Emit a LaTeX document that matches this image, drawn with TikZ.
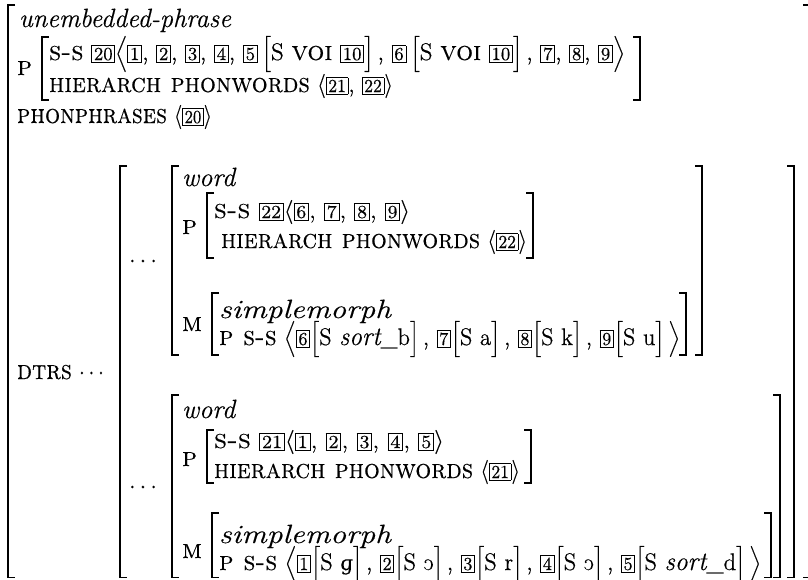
\documentclass[tikz,border=0pt]{standalone}
\usepackage{fontspec}
\usepackage{graphicx}
\newfontfamily\ipafnt{DejaVu Serif}[Scale=0.85]
\setlength{\fboxsep}{0.9pt}
\setlength{\fboxrule}{0.45pt}
\nulldelimiterspace=0pt
\newcommand{\heavy}{\special{pdf:literal direct 2 Tr 0.04 w}}
\newcommand{\tg}[1]{\fbox{\fontsize{9.2}{10}\selectfont #1}}
\newcommand{\avsc}[1]{{\fontsize{13.5}{15}\selectfont\scshape #1}}
\newcommand{\avit}[1]{{\fontsize{13.2}{15}\selectfont\itshape #1}}
\newcommand{\dlm}[1]{\ensuremath{\left#1\vcenter to 15pt{}\right.}}
\newcommand{\fitw}[2]{\resizebox{#1}{\height}{#2}}
\newcommand{\opo}{\reflectbox{c}}
\newcommand{\ipag}{{\ipafnt ɡ}}
\begin{document}
\begin{tikzpicture}[x=0.5pt,y=-0.5pt,
  txt/.style={anchor=base west,inner sep=0pt,outer sep=0pt,font=\fontsize{12}{14}\selectfont\heavy},
  dts/.style={anchor=base,inner sep=0pt,font=\fontsize{12}{14}\selectfont\heavy},
  brk/.style={line width=0.75pt}]
\useasboundingbox (0,0) rectangle (808,579);
% ---------- top level ----------
\node[txt] (type) at (19,27) {\fitw{106pt}{\avit{unembedded-phrase}}};
\node[txt] (plab) at (17,75) {\avsc{p}};
\node[txt] (ss) at (49,60) {\fitw{288pt}{\avsc{s-s} \tg{20}\dlm{\langle}\tg{1}, \tg{2}, \tg{3}, \tg{4}, \tg{5}\,\dlm{[}S \avsc{voi} \tg{10}\dlm{]}\,, \tg{6}\,\dlm{[}S \avsc{voi} \tg{10}\dlm{]}\,, \tg{7}, \tg{8}, \tg{9}\dlm{\rangle}}};
\node[txt] (hp) at (49,92) {\fitw{172pt}{\avsc{hierarch phonwords} $\langle$\tg{21}, \tg{22}$\rangle$}};
\node[txt] (pp) at (17,123) {\fitw{97.5pt}{\avsc{phonphrases} $\langle$\tg{20}$\rangle$}};
\node[txt] (dtrs) at (17,379) {\fitw{43.5pt}{\avsc{dtrs} $\cdots$}};
% brackets top level
\draw[brk] (15,5) -| (8,577.5) -- ++(7,0);
\draw[brk] (803,5) -| (809,577.5) -- ++(-6,0);
\draw[brk] (49,37) -| (42,100) -- ++(7,0);
\draw[brk] (633,37) -| (640,100) -- ++(-7,0);
% list brackets
\draw[brk] (127,166) -| (120,577.5) -- ++(7,0);
\draw[brk] (787,166) -| (794,577.5) -- ++(-7,0);
\node[dts] (d1) at (143,267) {$\cdots$};
\node[dts] (d2) at (143,493) {$\cdots$};
% ---------- word 1 ----------
\draw[brk] (179,166) -| (172,355) -- ++(7,0);
\draw[brk] (695,166) -| (702,355) -- ++(-7,0);
\node[txt] (w1t) at (182,186) {\avit{word}};
\node[txt] (w1p) at (182,234) {\avsc{p}};
\draw[brk] (214,193) -| (207,258) -- ++(7,0);
\draw[brk] (526,193) -| (533,258) -- ++(-7,0);
\node[txt] (w1a) at (214,218) {\fitw{98pt}{\avsc{s-s} \tg{22}$\langle$\tg{6}, \tg{7}, \tg{8}, \tg{9}$\rangle$}};
\node[txt] (w1b) at (221,248) {\fitw{153pt}{\avsc{hierarch phonwords} $\langle$\tg{22}$\rangle$}};
\node[txt] (w1m) at (182,331) {\avsc{m}};
\draw[brk] (219,293) -| (212,355) -- ++(7,0);
\draw[brk] (679,293) -| (686,355) -- ++(-7,0);
\node[txt] (w1c) at (219,318) {\fitw{86pt}{\avit{simplemorph}}};
\node[txt] (w1d) at (219,345) {\fitw{230.5pt}{\avsc{p s-s} \dlm{\langle}\tg{6}\dlm{[}S \avit{sort}\_b\dlm{]}\,, \tg{7}\dlm{[}S a\dlm{]}\,, \tg{8}\dlm{[}S k\dlm{]}\,, \tg{9}\dlm{[}S u\dlm{]}\,\dlm{\rangle}}};
% ---------- word 2 ----------
\draw[brk] (179,395) -| (172,577.5) -- ++(7,0);
\draw[brk] (773,395) -| (780,577.5) -- ++(-7,0);
\node[txt] (w2t) at (182,418) {\avit{word}};
\node[txt] (w2p) at (182,466) {\avsc{p}};
\draw[brk] (214,430) -| (207,483) -- ++(7,0);
\draw[brk] (524,430) -| (531,483) -- ++(-7,0);
\node[txt] (w2a) at (214,448) {\fitw{115pt}{\avsc{s-s} \tg{21}$\langle$\tg{1}, \tg{2}, \tg{3}, \tg{4}, \tg{5}$\rangle$}};
\node[txt] (w2b) at (214,478) {\fitw{153pt}{\avsc{hierarch phonwords} $\langle$\tg{21}$\rangle$}};
\node[txt] (w2m) at (182,558) {\avsc{m}};
\draw[brk] (219,513) -| (212,577.5) -- ++(7,0);
\draw[brk] (764,513) -| (771,577.5) -- ++(-7,0);
\node[txt] (w2c) at (219,543) {\fitw{86pt}{\avit{simplemorph}}};
\node[txt] (w2d) at (219,570) {\fitw{271pt}{\avsc{p s-s} \dlm{\langle}\tg{1}\dlm{[}S \ipag\dlm{]}\,, \tg{2}\dlm{[}S \opo\dlm{]}\,, \tg{3}\dlm{[}S r\dlm{]}\,, \tg{4}\dlm{[}S \opo\dlm{]}\,, \tg{5}\dlm{[}S \avit{sort}\_d\dlm{]}\,\dlm{\rangle}}};
\end{tikzpicture}
\end{document}
